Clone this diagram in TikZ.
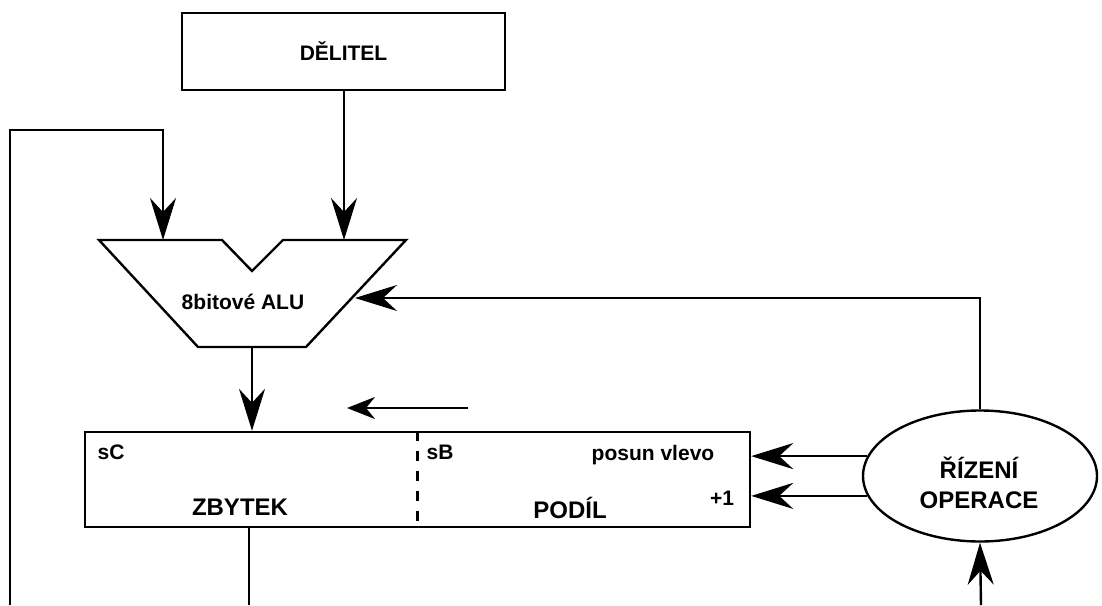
\documentclass[tikz,border=0pt]{standalone}
\usepackage{fontspec}
\setmainfont{Liberation Sans}
\usetikzlibrary{arrows.meta, positioning, shapes.geometric, calc}

\begin{document}
\begin{tikzpicture}[x=0.5pt, y=-0.5pt, line width=1.2pt,
  arr/.style={-{Stealth[length=21pt, width=13pt, inset=7pt]}},
  sarr/.style={-{Stealth[length=14pt, width=11pt, inset=4.5pt]}},
  lbl/.style={font=\bfseries\fontsize{10.5}{12}\selectfont, inner sep=0pt},
  big/.style={font=\bfseries\fontsize{12}{15}\selectfont, inner sep=0pt, align=center}]
  \useasboundingbox (0,0) rectangle (1102,605);

  % blocks
  \node[draw, minimum width=161.5pt, minimum height=38.5pt, lbl] (del) at (343.5,51.5) {DĚLITEL};
  \node[draw, minimum width=332.5pt, minimum height=47.5pt, inner sep=0pt] (reg) at (417.5,479.5) {};
  \node[draw, ellipse, minimum width=117pt, minimum height=65.5pt, inner sep=0pt] (ctrl) at (980,476) {};
  \node[big] (ctrltxt) at (979,483) {ŘÍZENÍ\\OPERACE};

  % ALU
  \coordinate (alu-in1) at (163,240);
  \coordinate (alu-in2) at (344,240);
  \coordinate (alu-out) at (252,347);
  \coordinate (alu-r) at (355,298);
  \draw (99,240) -- (222,240) -- (252,271) -- (283,240) -- (406,240)
        -- (306,347) -- (198,347) -- cycle;
  \node[lbl] (alutxt) at (243,302) {8bitové ALU};

  % register
  \draw[dash pattern=on 5pt off 5pt] (reg.north) -- (reg.south);
  \node[lbl] (sc) at (111,452) {sC};
  \node[lbl] (sb) at (440,452) {sB};
  \node[lbl] (posun) at (653,455) {posun vlevo};
  \node[lbl] (plus) at (722,498) {+1};
  \node[big] (zbytek) at (240,507) {ZBYTEK};
  \node[big] (podil) at (570,508) {PODÍL};

  % free ends
  \coordinate (fbstart) at (10,605);
  \coordinate (fbtop) at (10,130);
  \coordinate (remout) at (249,605);
  \coordinate (ctrlin) at (981,605);
  \coordinate (shift-a) at (468,408);
  \coordinate (shift-b) at (347,408);

  % connectors
  \draw[arr] (del.south -| alu-in2) -- (alu-in2);
  \draw[arr] (fbstart) -- (fbtop) -| (alu-in1);
  \draw[arr] (alu-out) -- (alu-out |- reg.north);
  \draw (remout |- reg.south) -- (remout);
  \draw[sarr] (shift-a) -- (shift-b);
  \draw[arr] (ctrl.north) |- (alu-r);
  \draw[arr] (ctrl.170) -- (ctrl.170 -| reg.east);
  \draw[arr] (ctrl.190) -- (ctrl.190 -| reg.east);
  \draw[arr] (ctrlin) -- (ctrl.south);
\end{tikzpicture}
\end{document}
